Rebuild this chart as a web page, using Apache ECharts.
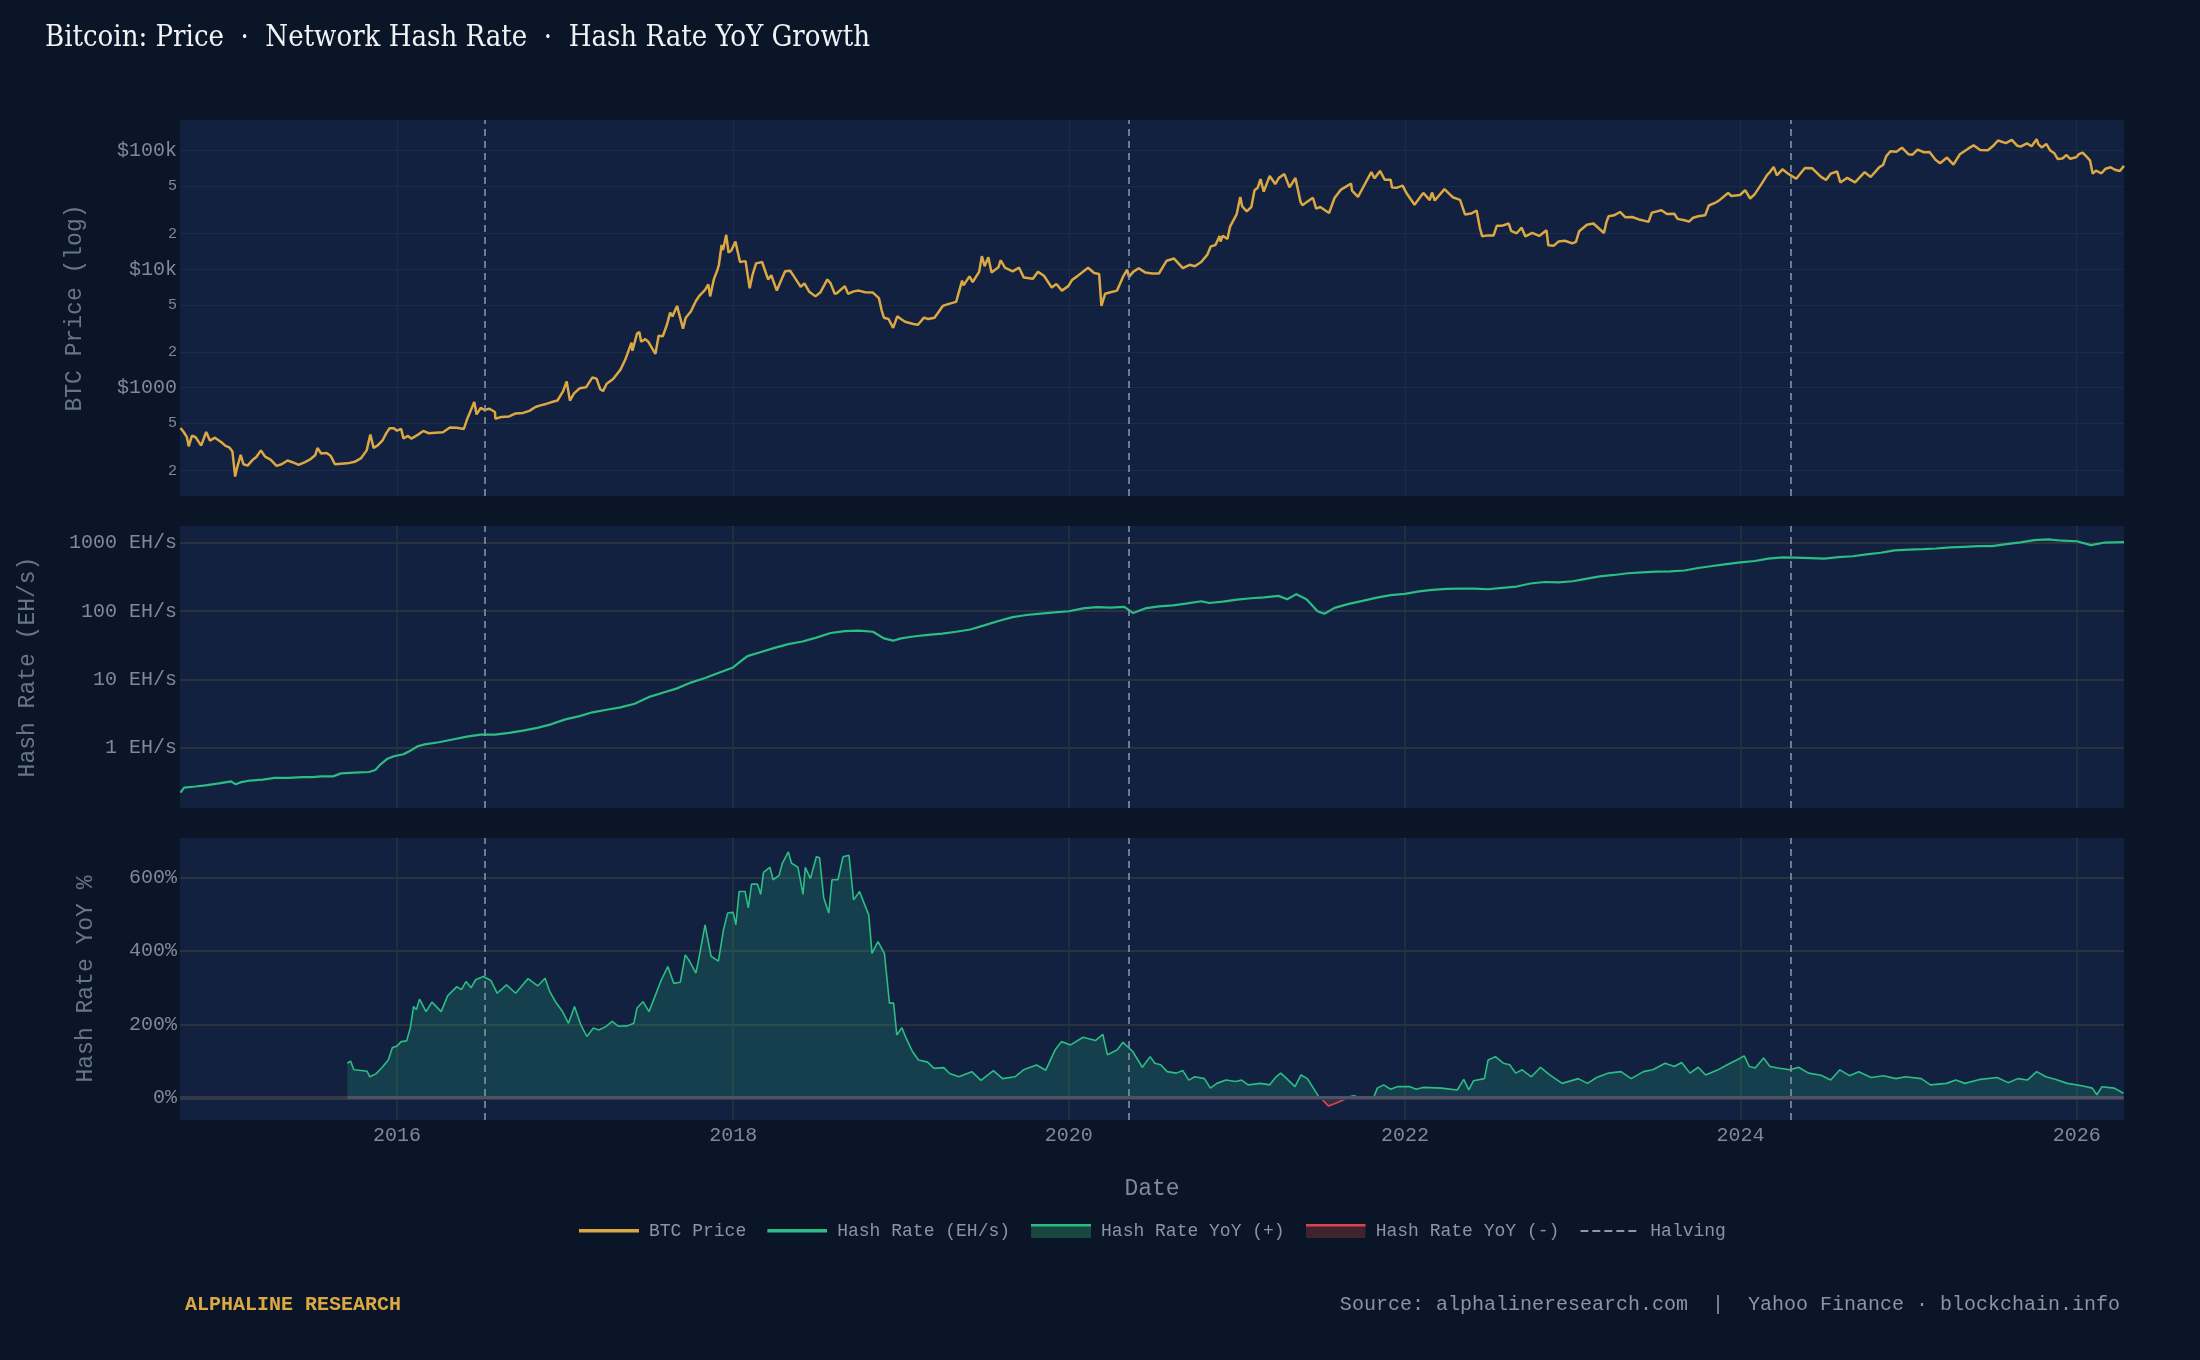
<!DOCTYPE html>
<html>
<head>
<meta charset="utf-8">
<title>Bitcoin: Price · Network Hash Rate · Hash Rate YoY Growth</title>
<script src="https://cdn.jsdelivr.net/npm/echarts@6.0.0/dist/echarts.min.js"></script>
<style>
  html, body { margin: 0; padding: 0; background: #0a1528; }
  #chart { width: 2200px; height: 1360px; }
</style>
</head>
<body>
<div id="chart"></div>
<script>
// ---- data ----
var X_MIN = '2014-09-16';
var X_MAX = '2026-04-14';

var halvings = ['2016-07-09', '2020-05-11', '2024-04-20'];
var yearTicks = [2016, 2018, 2020, 2022, 2024, 2026];
var priceTicks = [200, 500, 1000, 2000, 5000, 10000, 20000, 50000, 100000];
var hashTicks = [1, 10, 100, 1000];
var yoyTicks = [0, 200, 400, 600];

// BTC close, USD
var btcPrice = [
  ['2014-09-17',457],['2014-09-24',423],['2014-10-01',383],['2014-10-05',320],['2014-10-12',395],['2014-10-20',382],
  ['2014-11-01',325],['2014-11-12',423],['2014-11-20',358],['2014-12-01',379],['2014-12-15',347],['2014-12-24',323],
  ['2015-01-01',314],['2015-01-08',290],['2015-01-14',178],['2015-01-18',210],['2015-01-26',272],['2015-02-01',226],
  ['2015-02-10',220],['2015-02-20',244],['2015-03-01',260],['2015-03-11',296],['2015-03-20',262],['2015-04-01',247],
  ['2015-04-14',219],['2015-04-25',226],['2015-05-08',243],['2015-05-20',234],['2015-06-01',223],['2015-06-15',236],
  ['2015-06-27',250],['2015-07-07',269],['2015-07-12',310],['2015-07-20',279],['2015-08-01',281],['2015-08-10',265],
  ['2015-08-19',226],['2015-09-01',228],['2015-09-15',230],['2015-10-01',237],['2015-10-15',255],['2015-10-27',296],
  ['2015-11-04',403],['2015-11-11',311],['2015-11-20',326],['2015-12-01',362],['2015-12-09',416],['2015-12-16',455],
  ['2015-12-25',455],
  ['2016-01-01',434],['2016-01-10',449],['2016-01-15',374],['2016-01-25',392],['2016-02-01',372],['2016-02-15',400],
  ['2016-02-27',432],['2016-03-10',413],['2016-03-25',417],['2016-04-10',421],['2016-04-25',462],['2016-05-10',460],
  ['2016-05-25',448],['2016-06-01',536],['2016-06-12',680],['2016-06-17',760],['2016-06-22',595],['2016-07-01',675],
  ['2016-07-09',650],['2016-07-20',665],['2016-08-01',624],['2016-08-02',547],['2016-08-15',567],['2016-09-01',572],
  ['2016-09-15',607],['2016-10-01',613],['2016-10-15',638],['2016-10-28',688],['2016-11-08',710],['2016-11-20',730],
  ['2016-12-01',753],['2016-12-15',780],['2016-12-27',930],
  ['2017-01-04',1130],['2017-01-11',780],['2017-01-20',895],['2017-02-01',989],['2017-02-15',1008],['2017-03-01',1222],
  ['2017-03-10',1190],['2017-03-18',970],['2017-03-24',937],['2017-04-01',1081],['2017-04-15',1184],['2017-05-01',1421],
  ['2017-05-12',1750],['2017-05-25',2400],['2017-05-27',2050],['2017-06-06',2870],['2017-06-11',2950],['2017-06-15',2440],
  ['2017-06-24',2570],['2017-07-01',2430],['2017-07-16',1930],['2017-07-23',2750],['2017-08-01',2720],['2017-08-10',3400],
  ['2017-08-17',4300],['2017-08-22',4000],['2017-09-01',4900],['2017-09-14',3150],['2017-09-20',3900],['2017-10-01',4400],
  ['2017-10-12',5400],['2017-10-20',6000],['2017-11-01',6700],['2017-11-08',7450],['2017-11-12',5900],['2017-11-20',8200],
  ['2017-11-28',9900],['2017-12-01',10900],['2017-12-07',16000],['2017-12-10',14500],['2017-12-17',19500],['2017-12-22',13800],
  ['2017-12-28',14400],
  ['2018-01-06',17100],['2018-01-16',11500],['2018-01-28',11700],['2018-02-06',6900],['2018-02-12',8900],['2018-02-20',11200],
  ['2018-03-05',11500],['2018-03-18',8200],['2018-03-25',8900],['2018-04-06',6600],['2018-04-15',8000],['2018-04-24',9600],
  ['2018-05-05',9700],['2018-05-15',8500],['2018-05-28',7100],['2018-06-05',7600],['2018-06-15',6500],['2018-06-29',5900],
  ['2018-07-10',6400],['2018-07-25',8200],['2018-08-01',7600],['2018-08-10',6200],['2018-08-15',6300],['2018-09-01',7200],
  ['2018-09-08',6200],['2018-09-20',6500],['2018-10-01',6600],['2018-10-15',6400],['2018-11-01',6350],['2018-11-14',5700],
  ['2018-11-20',4500],['2018-11-25',3900],['2018-12-05',3800],['2018-12-15',3200],['2018-12-24',4000],
  ['2019-01-01',3800],['2019-01-10',3600],['2019-01-28',3450],['2019-02-07',3400],['2019-02-20',3900],['2019-03-01',3800],
  ['2019-03-15',3900],['2019-04-02',4900],['2019-04-15',5100],['2019-05-01',5300],['2019-05-14',8000],['2019-05-17',7300],
  ['2019-05-30',8700],['2019-06-06',7800],['2019-06-20',9500],['2019-06-26',12900],['2019-07-02',10600],['2019-07-10',12600],
  ['2019-07-17',9400],['2019-08-01',10400],['2019-08-06',11900],['2019-08-15',10300],['2019-09-01',9600],['2019-09-15',10300],
  ['2019-09-25',8500],['2019-10-15',8300],['2019-10-26',9500],['2019-11-08',8800],['2019-11-25',7000],['2019-12-05',7500],
  ['2019-12-17',6600],['2019-12-31',7200],
  ['2020-01-08',8100],['2020-01-19',8700],['2020-02-12',10300],['2020-02-25',9300],['2020-03-07',9100],['2020-03-12',4900],
  ['2020-03-20',6200],['2020-04-01',6400],['2020-04-15',6600],['2020-04-29',8800],['2020-05-07',9900],['2020-05-11',8600],
  ['2020-05-20',9500],['2020-06-01',10200],['2020-06-15',9400],['2020-07-01',9200],['2020-07-15',9200],['2020-07-27',11000],
  ['2020-08-01',11800],['2020-08-17',12300],['2020-09-05',10200],['2020-09-20',10900],['2020-10-01',10600],['2020-10-15',11500],
  ['2020-10-28',13200],['2020-11-05',15600],['2020-11-15',16000],['2020-11-24',19100],['2020-11-26',17100],['2020-12-01',19200],
  ['2020-12-11',18000],['2020-12-17',23000],['2020-12-31',29000],
  ['2021-01-08',40700],['2021-01-12',34000],['2021-01-22',30800],['2021-02-01',33500],['2021-02-08',46300],['2021-02-15',48700],
  ['2021-02-21',57500],['2021-02-28',45200],['2021-03-13',61200],['2021-03-25',52300],['2021-04-02',59000],['2021-04-14',63500],
  ['2021-04-25',49000],['2021-05-08',58800],['2021-05-19',37000],['2021-05-23',34700],['2021-06-01',36700],['2021-06-15',40100],
  ['2021-06-22',32500],['2021-07-01',33500],['2021-07-20',29800],['2021-08-01',39900],['2021-08-15',47000],['2021-09-06',52700],
  ['2021-09-08',46000],['2021-09-21',40700],['2021-10-01',48200],['2021-10-20',66000],['2021-10-27',58500],['2021-11-08',67500],
  ['2021-11-18',56900],['2021-12-01',57000],['2021-12-04',49000],['2021-12-15',48800],['2021-12-27',50700],
  ['2022-01-05',43500],['2022-01-22',35000],['2022-02-10',44000],['2022-02-24',38300],['2022-03-01',44400],['2022-03-07',38000],
  ['2022-03-28',47400],['2022-04-15',40500],['2022-05-01',38500],['2022-05-12',28900],['2022-05-25',29500],['2022-06-06',31300],
  ['2022-06-13',22400],['2022-06-18',19000],['2022-07-01',19300],['2022-07-13',19300],['2022-07-20',23300],['2022-08-01',23300],
  ['2022-08-15',24300],['2022-08-20',21100],['2022-09-01',20100],['2022-09-12',22400],['2022-09-20',18900],['2022-10-05',20300],
  ['2022-10-20',19100],['2022-11-05',21300],['2022-11-09',15900],['2022-11-21',15800],['2022-12-01',17100],['2022-12-15',17400],
  ['2022-12-31',16500],
  ['2023-01-08',17000],['2023-01-15',20900],['2023-02-01',23700],['2023-02-15',24300],['2023-03-10',20200],['2023-03-15',24700],
  ['2023-03-20',28000],['2023-04-01',28500],['2023-04-14',30400],['2023-04-25',27500],['2023-05-10',27600],['2023-05-25',26300],
  ['2023-06-05',25700],['2023-06-15',25100],['2023-06-22',30000],['2023-07-01',30600],['2023-07-13',31400],['2023-07-25',29200],
  ['2023-08-10',29400],['2023-08-17',26600],['2023-09-01',25900],['2023-09-11',25200],['2023-09-20',27200],['2023-10-01',28000],
  ['2023-10-16',28500],['2023-10-24',34500],['2023-11-09',36700],['2023-11-15',37900],['2023-12-05',44000],['2023-12-12',41500],
  ['2023-12-31',42300],
  ['2024-01-11',46500],['2024-01-22',39500],['2024-02-01',43000],['2024-02-15',52000],['2024-02-28',62500],['2024-03-05',66000],
  ['2024-03-13',73000],['2024-03-20',62000],['2024-04-01',69700],['2024-04-15',63400],['2024-05-01',58000],['2024-05-20',71400],
  ['2024-06-05',71000],['2024-06-24',60200],['2024-07-05',56700],['2024-07-15',64000],['2024-07-29',66800],['2024-08-05',54000],
  ['2024-08-20',59000],['2024-09-06',54000],['2024-09-27',66000],['2024-10-10',60000],['2024-10-29',72700],['2024-11-06',75800],
  ['2024-11-13',90000],['2024-11-22',98900],['2024-12-05',98000],['2024-12-17',106000],['2024-12-31',93400],
  ['2025-01-09',92500],['2025-01-20',102000],['2025-02-03',97000],['2025-02-15',97500],['2025-02-28',84000],['2025-03-10',78500],
  ['2025-03-25',87500],['2025-04-08',76300],['2025-04-22',93400],['2025-05-10',104000],['2025-05-22',111000],['2025-06-05',101500],
  ['2025-06-22',100900],['2025-07-03',109500],['2025-07-14',122000],['2025-07-31',115800],['2025-08-13',123500],['2025-08-25',110000],
  ['2025-09-01',108200],['2025-09-15',115300],['2025-09-25',109000],['2025-10-06',125000],['2025-10-10',113000],['2025-10-17',106500],
  ['2025-10-27',114000],['2025-11-04',101000],['2025-11-14',94500],['2025-11-21',85000],['2025-12-01',86000],['2025-12-10',92000],
  ['2025-12-18',85500],['2025-12-31',88000],
  ['2026-01-06',93500],['2026-01-14',96500],['2026-01-22',89500],['2026-01-30',83000],['2026-02-05',64000],['2026-02-12',68000],
  ['2026-02-24',64500],['2026-03-05',70500],['2026-03-16',72500],['2026-03-25',69000],['2026-04-05',67500],['2026-04-14',74500]
];

// network hash rate, EH/s
var hashRate = [
  ['2014-09-17',0.22],['2014-09-25',0.26],['2014-10-20',0.27],['2014-11-10',0.28],['2014-12-10',0.30],['2015-01-05',0.32],
  ['2015-01-15',0.29],['2015-01-25',0.31],['2015-02-15',0.33],['2015-03-15',0.34],['2015-04-10',0.36],['2015-05-10',0.36],
  ['2015-06-10',0.37],['2015-07-01',0.37],['2015-07-20',0.38],['2015-08-15',0.38],['2015-09-01',0.42],['2015-10-01',0.43],
  ['2015-11-01',0.44],['2015-11-15',0.47],['2015-11-25',0.56],['2015-12-10',0.68],['2015-12-25',0.75],['2016-01-15',0.80],
  ['2016-02-01',0.92],['2016-02-15',1.05],['2016-03-01',1.12],['2016-04-01',1.20],['2016-05-01',1.32],['2016-06-01',1.45],
  ['2016-07-01',1.55],['2016-08-01',1.55],['2016-09-01',1.65],['2016-10-01',1.78],['2016-11-01',1.95],['2016-12-01',2.2],
  ['2017-01-01',2.6],['2017-02-01',2.9],['2017-03-01',3.3],['2017-04-01',3.6],['2017-05-01',3.9],['2017-06-01',4.4],
  ['2017-07-01',5.5],['2017-08-01',6.4],['2017-09-01',7.4],['2017-10-01',9.0],['2017-11-01',10.5],['2017-12-01',12.5],
  ['2018-01-01',15],['2018-01-20',19],['2018-02-01',22],['2018-03-01',25],['2018-04-01',29],['2018-05-01',33],
  ['2018-06-01',36],['2018-07-01',41],['2018-08-01',48],['2018-09-01',51],['2018-10-01',52],['2018-11-01',50],
  ['2018-11-25',40],['2018-12-15',37],['2019-01-01',40],['2019-02-01',43],['2019-03-01',45],['2019-04-01',47],
  ['2019-05-01',50],['2019-06-01',54],['2019-07-01',62],['2019-08-01',72],['2019-09-01',82],['2019-10-01',88],
  ['2019-11-01',92],['2019-12-01',96],['2020-01-01',100],['2020-02-01',110],['2020-03-01',115],['2020-04-01',113],
  ['2020-05-01',116],['2020-05-20',94],['2020-06-15',110],['2020-07-15',118],['2020-08-15',122],['2020-09-15',130],
  ['2020-10-15',140],['2020-11-01',132],['2020-12-01',138],['2021-01-01',148],['2021-02-01',155],['2021-03-01',160],
  ['2021-04-01',168],['2021-04-20',150],['2021-05-10',178],['2021-06-01',150],['2021-06-25',100],['2021-07-10',92],
  ['2021-08-01',112],['2021-09-01',128],['2021-10-01',142],['2021-11-01',158],['2021-12-01',172],['2022-01-01',180],
  ['2022-02-01',195],['2022-03-01',205],['2022-04-01',212],['2022-05-01',215],['2022-06-01',215],['2022-07-01',210],
  ['2022-08-01',220],['2022-09-01',230],['2022-10-01',255],['2022-11-01',268],['2022-12-01',265],['2023-01-01',275],
  ['2023-02-01',300],['2023-03-01',325],['2023-04-01',340],['2023-05-01',360],['2023-06-01',370],['2023-07-01',380],
  ['2023-08-01',385],['2023-09-01',395],['2023-10-01',430],['2023-11-01',460],['2023-12-01',490],['2024-01-01',520],
  ['2024-02-01',545],['2024-03-01',590],['2024-04-01',615],['2024-05-01',610],['2024-06-01',600],['2024-07-01',590],
  ['2024-08-01',620],['2024-09-01',640],['2024-10-01',680],['2024-11-01',720],['2024-12-01',780],['2025-01-01',800],
  ['2025-02-01',815],['2025-03-01',830],['2025-04-01',860],['2025-05-01',880],['2025-06-01',900],['2025-07-01',900],
  ['2025-08-01',960],['2025-09-01',1020],['2025-10-01',1100],['2025-11-01',1130],['2025-12-01',1080],['2026-01-01',1060],
  ['2026-02-01',930],['2026-03-01',1010],['2026-04-14',1030]
];

// hash rate year-over-year growth, %
var hashYoY = [
  ['2015-09-15',94],['2015-09-22',100],['2015-09-29',76],['2015-10-15',74],['2015-10-28',72],['2015-11-03',57],
  ['2015-11-16',65],['2015-11-30',83],['2015-12-13',103],['2015-12-22',137],['2015-12-31',140],['2016-01-10',153],
  ['2016-01-22',155],['2016-01-30',191],['2016-02-06',249],['2016-02-12',240],['2016-02-19',269],['2016-03-04',235],
  ['2016-03-17',261],['2016-04-06',235],['2016-04-20',278],['2016-05-10',303],['2016-05-20',295],['2016-05-30',317],
  ['2016-06-10',300],['2016-06-20',322],['2016-07-07',331],['2016-07-23',320],['2016-08-06',285],['2016-08-26',308],
  ['2016-09-15',285],['2016-09-25',300],['2016-10-12',325],['2016-11-02',305],['2016-11-18',326],['2016-11-28',290],
  ['2016-12-12',259],['2016-12-26',235],['2017-01-08',203],['2017-01-21',249],['2017-02-04',198],['2017-02-17',167],
  ['2017-03-03',190],['2017-03-15',185],['2017-03-30',194],['2017-04-13',208],['2017-04-26',195],['2017-05-16',196],
  ['2017-05-30',203],['2017-06-06',245],['2017-06-19',262],['2017-07-02',235],['2017-07-16',280],['2017-07-29',322],
  ['2017-08-12',358],['2017-08-25',312],['2017-09-08',315],['2017-09-19',390],['2017-09-28',373],['2017-10-12',340],
  ['2017-10-18',377],['2017-11-01',472],['2017-11-14',386],['2017-11-30',373],['2017-12-11',458],['2017-12-20',504],
  ['2018-01-01',506],['2018-01-07',472],['2018-01-14',563],['2018-01-27',563],['2018-02-03',518],['2018-02-10',583],
  ['2018-02-23',583],['2018-03-02',555],['2018-03-08',615],['2018-03-22',629],['2018-03-29',595],['2018-04-11',607],
  ['2018-04-18',640],['2018-05-01',671],['2018-05-08',640],['2018-05-22',629],['2018-06-02',555],['2018-06-07',629],
  ['2018-06-18',598],['2018-07-01',658],['2018-07-08',655],['2018-07-17',546],['2018-07-28',504],['2018-08-04',595],
  ['2018-08-17',595],['2018-08-28',658],['2018-09-10',662],['2018-09-20',540],['2018-10-03',563],['2018-10-10',540],
  ['2018-10-23',499],['2018-10-30',394],['2018-11-12',426],['2018-11-26',394],['2018-12-07',258],['2018-12-16',258],
  ['2018-12-23',171],['2019-01-03',191],['2019-01-12',163],['2019-01-26',126],['2019-02-08',103],['2019-02-28',97],
  ['2019-03-14',80],['2019-04-04',82],['2019-04-17',66],['2019-05-07',57],['2019-06-04',71],['2019-06-24',47],
  ['2019-07-21',74],['2019-08-10',52],['2019-09-06',57],['2019-09-26',77],['2019-10-23',89],['2019-11-12',75],
  ['2019-12-02',130],['2019-12-16',153],['2020-01-05',144],['2020-02-01',165],['2020-02-28',156],['2020-03-15',173],
  ['2020-03-25',117],['2020-04-15',130],['2020-04-28',151],['2020-05-19',126],['2020-06-09',83],['2020-06-26',112],
  ['2020-07-06',94],['2020-07-19',90],['2020-08-02',71],['2020-08-22',67],['2020-09-05',74],['2020-09-18',48],
  ['2020-10-01',57],['2020-10-22',52],['2020-11-04',26],['2020-11-18',39],['2020-12-08',48],['2020-12-29',44],
  ['2021-01-11',48],['2021-01-25',35],['2021-02-21',39],['2021-03-13',35],['2021-03-27',57],['2021-04-06',67],
  ['2021-04-19',52],['2021-05-07',30],['2021-05-20',62],['2021-06-03',52],['2021-06-16',26],['2021-06-29',0],
  ['2021-07-06',-6],['2021-07-19',-23],['2021-08-02',-16],['2021-08-23',-5],['2021-08-27',0],['2021-09-12',5],
  ['2021-09-26',0],['2021-10-25',0],['2021-11-02',26],['2021-11-16',35],['2021-12-01',23],['2021-12-15',30],
  ['2022-01-12',30],['2022-01-26',23],['2022-02-09',28],['2022-03-22',26],['2022-04-25',21],['2022-05-09',50],
  ['2022-05-20',21],['2022-05-30',46],['2022-06-23',52],['2022-07-01',103],['2022-07-17',112],['2022-08-03',94],
  ['2022-08-17',90],['2022-08-30',67],['2022-09-13',76],['2022-10-03',57],['2022-10-23',83],['2022-11-12',62],
  ['2022-12-09',39],['2023-01-13',52],['2023-02-02',39],['2023-02-22',55],['2023-03-20',67],['2023-04-16',71],
  ['2023-05-08',52],['2023-06-04',71],['2023-06-24',76],['2023-07-21',94],['2023-08-10',85],['2023-08-26',96],
  ['2023-09-13',67],['2023-10-01',83],['2023-10-17',62],['2023-11-13',76],['2023-12-03',90],['2023-12-24',103],
  ['2024-01-09',114],['2024-01-20',85],['2024-02-02',81],['2024-02-20',108],['2024-03-05',85],['2024-03-22',81],
  ['2024-04-18',76],['2024-05-06',83],['2024-05-28',67],['2024-06-24',61],['2024-07-15',48],['2024-08-04',76],
  ['2024-08-25',60],['2024-09-14',71],['2024-10-11',55],['2024-11-07',60],['2024-12-04',52],['2024-12-25',57],
  ['2025-01-28',52],['2025-02-17',35],['2025-03-24',39],['2025-04-13',48],['2025-05-03',39],['2025-06-06',50],
  ['2025-07-12',55],['2025-08-05',41],['2025-08-26',52],['2025-09-16',48],['2025-10-06',71],['2025-10-26',57],
  ['2025-11-15',50],['2025-12-12',39],['2026-01-15',32],['2026-02-04',26],['2026-02-14',8],['2026-02-25',30],
  ['2026-03-24',26],['2026-04-13',12]
];

// ---- styling ----
var MONO = '"Liberation Mono", "DejaVu Sans Mono", monospace';
var GOLD = '#dba843';
var GREEN = '#2bbd83';
var RED = '#d8464e';
var TICK = '#7e8999';
var NAME = '#687587';
var PANEL = '#11213f';
var GRID_FAINT = '#1b2b4a';
var GRID = '#2a3242';

// dates become ms timestamps on a plain value axis (so the 2-year ticks can be placed exactly)
function ts(d) {
  var p = d.split('-');
  return Date.UTC(+p[0], +p[1] - 1, +p[2]);
}
function toTs(arr) {
  return arr.map(function (p) { return [ts(p[0]), p[1]]; });
}

function svgIcon(body) {
  return 'image://data:image/svg+xml;charset=utf-8,' + encodeURIComponent(
    '<svg xmlns="http://www.w3.org/2000/svg" width="60" height="14" viewBox="0 0 60 14">' + body + '</svg>');
}

var yearValues = yearTicks.map(function (y) { return Date.UTC(y, 0, 1); });

function priceLabel(v) {
  v = Math.round(v);
  if (v === 1000) return '$1000';
  if (v === 10000) return '$10k';
  if (v === 100000) return '$100k';
  return '{m|' + String(v).charAt(0) + '}';
}

var gridBox = [
  { top: 120, height: 376 },
  { top: 526, height: 282 },
  { top: 838, height: 282 }
];

var grids = gridBox.map(function (g) {
  return {
    left: 180, right: 76, top: g.top, height: g.height,
    show: true, backgroundColor: PANEL, borderWidth: 0,
    outerBoundsMode: 'none'
  };
});

var xAxes = [0, 1, 2].map(function (i) {
  return {
    type: 'value', gridIndex: i, min: ts(X_MIN), max: ts(X_MAX),
    axisLine: { show: false },
    axisTick: { show: false, customValues: yearValues },
    axisLabel: {
      show: i === 2, customValues: yearValues,
      formatter: function (v) { return String(new Date(v).getUTCFullYear()); },
      color: TICK, fontFamily: MONO, fontSize: 20, margin: 6
    },
    splitLine: { show: true, lineStyle: { color: i === 0 ? GRID_FAINT : GRID, width: i === 0 ? 1 : 1.5 } },
    name: i === 2 ? 'Date' : '',
    nameLocation: 'middle', nameGap: 57,
    nameTextStyle: { color: TICK, fontFamily: MONO, fontSize: 23 }
  };
});

var axisNameStyle = { color: NAME, fontFamily: MONO, fontSize: 23 };

var yAxes = [
  {
    type: 'log', logBase: 10, gridIndex: 0, min: 122, max: 181600,
    axisLine: { show: false },
    axisTick: { show: false, customValues: priceTicks },
    axisLabel: {
      customValues: priceTicks, formatter: priceLabel,
      color: TICK, fontFamily: MONO, fontSize: 20, margin: 3,
      rich: { m: { color: TICK, fontFamily: MONO, fontSize: 15 } }
    },
    splitLine: { show: true, lineStyle: { color: GRID_FAINT, width: 1 } },
    name: 'BTC Price (log)', nameLocation: 'middle', nameGap: 94, nameTextStyle: axisNameStyle
  },
  {
    type: 'log', logBase: 10, gridIndex: 1, min: 0.1306, max: 1775,
    axisLine: { show: false },
    axisTick: { show: false, customValues: hashTicks },
    axisLabel: {
      customValues: hashTicks,
      formatter: function (v) { return Math.round(v) + ' EH/s'; },
      color: TICK, fontFamily: MONO, fontSize: 20, margin: 3
    },
    splitLine: { show: true, lineStyle: { color: GRID, width: 2 } },
    name: 'Hash Rate (EH/s)', nameLocation: 'middle', nameGap: 141, nameTextStyle: axisNameStyle
  },
  {
    type: 'value', gridIndex: 2, min: -61, max: 709,
    axisLine: { show: false },
    axisTick: { show: false, customValues: yoyTicks },
    axisLabel: {
      customValues: yoyTicks,
      formatter: function (v) { return Math.round(v) + '%'; },
      color: TICK, fontFamily: MONO, fontSize: 20, margin: 3
    },
    splitLine: { show: true, lineStyle: { color: GRID, width: 2 } },
    name: 'Hash Rate YoY %', nameLocation: 'middle', nameGap: 83, nameTextStyle: axisNameStyle
  }
];

var halvingStyle = { color: '#8c98ab', type: [7, 5], width: 1.5 };
function halvingMarks(extra) {
  return {
    symbol: 'none', silent: true, label: { show: false },
    lineStyle: halvingStyle,
    data: halvings.map(function (d) { return { xAxis: ts(d) }; }).concat(extra || [])
  };
}

var yoyFirst = ts(hashYoY[0][0]);
var yoyLast = ts(hashYoY[hashYoY.length - 1][0]);

var series = [
  {
    name: 'BTC Price', type: 'line', xAxisIndex: 0, yAxisIndex: 0,
    data: toTs(btcPrice), showSymbol: false, symbol: 'none',
    lineStyle: { color: GOLD, width: 2.5 }, itemStyle: { color: GOLD },
    markLine: halvingMarks(), z: 3
  },
  {
    name: 'Hash Rate (EH/s)', type: 'line', xAxisIndex: 1, yAxisIndex: 1,
    data: toTs(hashRate), showSymbol: false, symbol: 'none',
    lineStyle: { color: GREEN, width: 2.2 }, itemStyle: { color: GREEN },
    markLine: halvingMarks(), z: 3
  },
  {
    name: 'Hash Rate YoY (+)', type: 'line', xAxisIndex: 2, yAxisIndex: 2,
    data: hashYoY.map(function (p) { return [ts(p[0]), Math.max(p[1], 0)]; }),
    showSymbol: false, symbol: 'none',
    lineStyle: { color: GREEN, width: 1.6 }, itemStyle: { color: GREEN },
    areaStyle: { color: 'rgba(43,189,131,0.28)' },
    markLine: halvingMarks([
      [{ coord: [ts(X_MIN), 0], lineStyle: { color: '#323a49', type: 'solid', width: 4 } },
       { coord: [ts(X_MAX), 0] }],
      [{ coord: [yoyFirst, 0], lineStyle: { color: '#4d5365', type: 'solid', width: 3 } },
       { coord: [yoyLast, 0] }]
    ]),
    z: 3
  },
  {
    name: 'Hash Rate YoY (-)', type: 'line', xAxisIndex: 2, yAxisIndex: 2,
    data: hashYoY.map(function (p) { return [ts(p[0]), p[1] <= 0 ? p[1] : null]; }),
    showSymbol: false, symbol: 'none', connectNulls: false,
    lineStyle: { color: RED, width: 1.6 }, itemStyle: { color: RED },
    areaStyle: { color: 'rgba(216,70,78,0.3)' }, z: 4
  },
  {
    name: 'Halving', type: 'line', xAxisIndex: 0, yAxisIndex: 0, data: [],
    lineStyle: halvingStyle, itemStyle: { color: '#8c98ab' }
  }
];

var legendData = [
  { name: 'BTC Price', icon: svgIcon('<rect x="0" y="5" width="60" height="3.5" fill="' + GOLD + '"/>') },
  { name: 'Hash Rate (EH/s)', icon: svgIcon('<rect x="0" y="5" width="60" height="3.5" fill="' + GREEN + '"/>') },
  { name: 'Hash Rate YoY (+)', icon: svgIcon('<rect x="0" y="1" width="60" height="13" fill="#17473f"/><rect x="0" y="0" width="60" height="2.5" fill="' + GREEN + '"/>') },
  { name: 'Hash Rate YoY (-)', icon: svgIcon('<rect x="0" y="1" width="60" height="13" fill="#3f232f"/><rect x="0" y="0" width="60" height="2.5" fill="' + RED + '"/>') },
  { name: 'Halving', icon: svgIcon('<g fill="#8c98ab"><rect x="0" y="6" width="8" height="2"/><rect x="12" y="6" width="8" height="2"/><rect x="24" y="6" width="8" height="2"/><rect x="36" y="6" width="8" height="2"/><rect x="48" y="6" width="8" height="2"/></g>') }
];

var option = {
  backgroundColor: '#0a1528',
  animation: false,
  title: {
    text: 'Bitcoin: Price  ·  Network Hash Rate  ·  Hash Rate YoY Growth',
    left: 40, top: 19,
    textStyle: { color: '#f1f2f4', fontFamily: '"DejaVu Serif Condensed", "DejaVu Serif", serif', fontSize: 29, fontWeight: 'normal' }
  },
  legend: {
    data: legendData, left: 574, top: 1217,
    itemWidth: 60, itemHeight: 14, itemGap: 21,
    textStyle: { color: '#8a94a3', fontFamily: MONO, fontSize: 18, padding: [0, 0, 0, 5] },
    selectedMode: false
  },
  grid: grids,
  xAxis: xAxes,
  yAxis: yAxes,
  series: series,
  graphic: [
    {
      type: 'text', left: 185, top: 1295,
      style: { text: 'ALPHALINE RESEARCH', fill: GOLD, font: 'bold 20px ' + MONO }
    },
    {
      type: 'text', right: 80, top: 1295,
      style: { text: 'Source: alphalineresearch.com  |  Yahoo Finance · blockchain.info', fill: '#8a94a3', font: '20px ' + MONO }
    }
  ]
};

var chart = echarts.init(document.getElementById('chart'));
chart.setOption(option);
</script>
</body>
</html>
